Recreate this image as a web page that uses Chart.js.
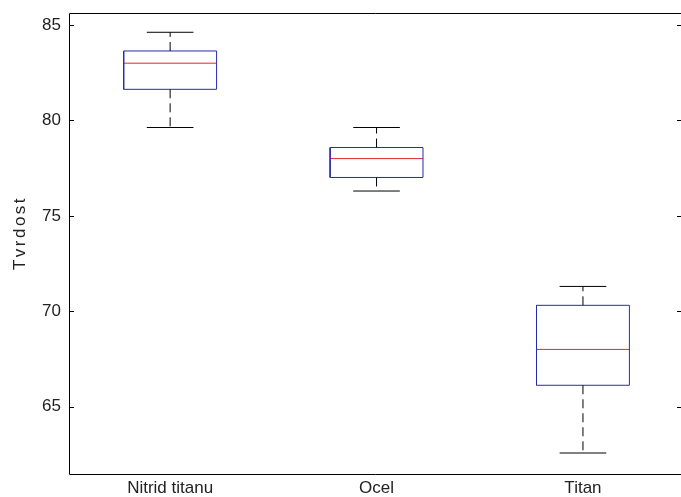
<!DOCTYPE html>
<html>
<head>
<meta charset="utf-8">
<script src="https://cdn.jsdelivr.net/npm/chart.js@4/dist/chart.umd.min.js"></script>
<style>
  html, body { margin: 0; padding: 0; background: #fff; overflow: hidden; }
</style>
</head>
<body>
<canvas id="c" width="681" height="497"></canvas>
<script>
// Hardness by material: five-number summaries per group
const categories   = ['Nitrid titanu', 'Ocel', 'Titan'];
const lowerWhisker = [79.63, 76.30, 62.57];
const quartile1    = [81.63, 77.01, 66.12];
const medians      = [83.00, 78.00, 68.00];
const quartile3    = [83.64, 78.58, 70.31];
const upperWhisker = [84.62, 79.63, 71.30];
const yTickValues  = [65, 70, 75, 80, 85];
const yTitle = 'Tvrdost';

const BOX_HALF = 0.225;   // half box width, in category units
const CAP_HALF = 0.113;   // half whisker-cap width

// Build segment lists (null separates pieces of one dataset)
const boxPts = [], medPts = [], whiskPts = [], capPts = [];
categories.forEach((_, i) => {
  const c = i + 1;
  boxPts.push(
    {x: c - BOX_HALF, y: quartile1[i]}, {x: c + BOX_HALF, y: quartile1[i]},
    {x: c + BOX_HALF, y: quartile3[i]}, {x: c - BOX_HALF, y: quartile3[i]},
    {x: c - BOX_HALF, y: quartile1[i]}, {x: c, y: null});
  medPts.push({x: c - BOX_HALF, y: medians[i]}, {x: c + BOX_HALF, y: medians[i]}, {x: c, y: null});
  whiskPts.push(
    {x: c, y: quartile3[i]}, {x: c, y: upperWhisker[i]}, {x: c, y: null},
    {x: c, y: quartile1[i]}, {x: c, y: lowerWhisker[i]}, {x: c, y: null});
  capPts.push(
    {x: c - CAP_HALF, y: upperWhisker[i]}, {x: c + CAP_HALF, y: upperWhisker[i]}, {x: c, y: null},
    {x: c - CAP_HALF, y: lowerWhisker[i]}, {x: c + CAP_HALF, y: lowerWhisker[i]}, {x: c, y: null});
});

const FONT = "'Liberation Sans', Arial, sans-serif";

// Axes lines (the right edge of the axes sits just past the canvas),
// inward tick marks on both sides, rotated y title
const framePlugin = {
  id: 'frame',
  afterDraw(chart) {
    const {ctx, chartArea: a, scales} = chart;
    const L = Math.round(a.left) + 0.5, T = Math.round(a.top) + 0.5, B = Math.round(a.bottom) + 0.5;
    ctx.save();
    ctx.strokeStyle = '#000';
    ctx.lineWidth = 1;
    ctx.beginPath();
    ctx.moveTo(a.right + 2, T); ctx.lineTo(L, T); ctx.lineTo(L, B); ctx.lineTo(a.right + 2, B);
    yTickValues.forEach(v => {
      const y = Math.round(scales.y.getPixelForValue(v)) + 0.5;
      ctx.moveTo(a.left, y); ctx.lineTo(a.left + 5, y);
      ctx.moveTo(a.right + 1, y); ctx.lineTo(a.right - 4, y);
    });
    ctx.stroke();

    ctx.fillStyle = '#222';
    ctx.font = '17px ' + FONT;
    ctx.letterSpacing = '2.5px';
    ctx.textAlign = 'center';
    ctx.textBaseline = 'middle';
    ctx.translate(20, 233);
    ctx.rotate(-Math.PI / 2);
    ctx.fillText(yTitle, 0, 0);
    ctx.restore();
  }
};

const line = (data, color, dash) => ({
  data, borderColor: color, borderWidth: 1, borderDash: dash || [],
  pointRadius: 0, pointHoverRadius: 0, fill: false, tension: 0, spanGaps: false
});

new Chart(document.getElementById('c'), {
  type: 'line',
  data: {
    datasets: [
      line(whiskPts, '#000000', [9, 5]),
      line(capPts, '#000000'),
      line(boxPts, '#2a2ab0'),
      line(medPts, '#e3262b')
    ]
  },
  options: {
    responsive: false,
    animation: false,
    events: [],
    layout: { padding: { top: 13, right: 0, left: 0, bottom: 0 } },
    plugins: { legend: { display: false }, tooltip: { enabled: false } },
    scales: {
      x: {
        type: 'linear',
        min: 0.51, max: 3.475,
        grid: { display: false, drawTicks: false },
        border: { display: false },
        afterBuildTicks: s => { s.ticks = categories.map((_, i) => ({ value: i + 1 })); },
        afterFit: s => { s.height = 23; s.paddingLeft = 0; s.paddingRight = 0; },
        ticks: {
          autoSkip: false, maxRotation: 0, padding: 4,
          color: '#222', font: { family: FONT, size: 17 },
          callback: (v, i) => categories[i]
        }
      },
      y: {
        type: 'linear',
        min: 61.47, max: 85.63,
        grid: { display: false, drawTicks: false },
        border: { display: false },
        afterBuildTicks: s => { s.ticks = yTickValues.map(v => ({ value: v })); },
        afterFit: s => { s.width = 69; s.paddingTop = 0; s.paddingBottom = 0; },
        ticks: {
          padding: 8, color: '#222', font: { family: FONT, size: 17 }
        }
      }
    }
  },
  plugins: [framePlugin]
});
</script>
</body>
</html>
